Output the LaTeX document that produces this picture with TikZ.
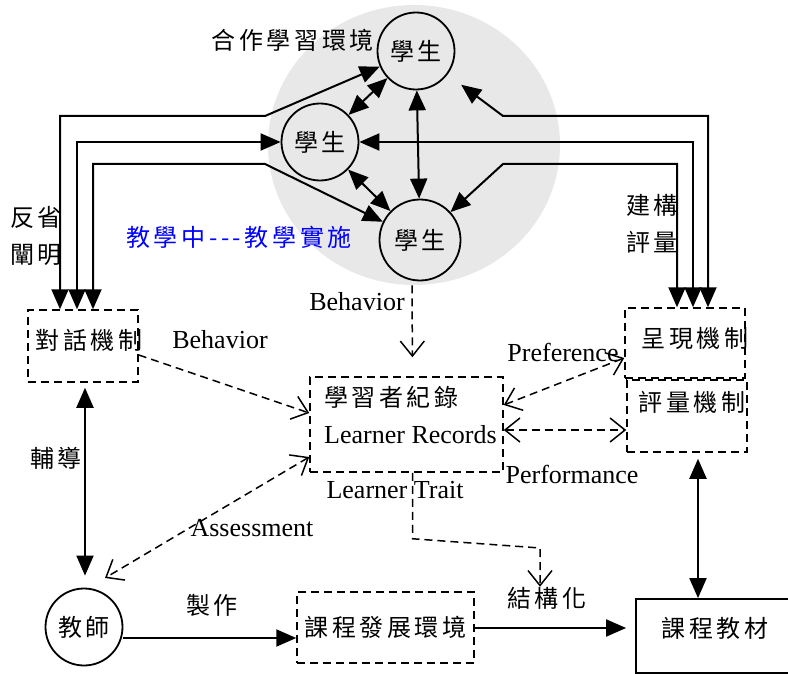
\documentclass[tikz,border=0pt]{standalone}
\usepackage{fontspec}
\setmainfont{Liberation Serif}
\newfontfamily\cjk[LetterSpace=15]{Noto Sans CJK TC}
\usetikzlibrary{arrows.meta}
\tikzset{
  zh/.style={font=\cjk\fontsize{24}{28}\selectfont, inner sep=0pt},
  en/.style={font=\fontsize{26}{30}\selectfont, inner sep=0pt},
  stu/.style={zh, draw, circle, line width=1.8pt, minimum size=77pt},
  dbox/.style={draw, line width=1.5pt, dash pattern=on 8pt off 5pt},
  sbox/.style={draw, line width=1.8pt},
  solid arrow/.style={line width=2pt, -{Triangle[length=20pt,width=17pt]}},
  both/.style={line width=2pt, {Triangle[length=20pt,width=17pt]}-{Triangle[length=20pt,width=17pt]}},
  open arrow/.style={line width=1.5pt, dash pattern=on 8pt off 5pt, -{Straight Barb[length=15pt,width=24pt]}},
  open both/.style={open arrow, {Straight Barb[length=15pt,width=24pt]}-{Straight Barb[length=15pt,width=24pt]}}
}
\begin{document}
\begin{tikzpicture}[x=1pt,y=-1pt]
  \useasboundingbox (0,0) rectangle (788,674);
  \fill[black!9] (414,145) ellipse [x radius=146pt,y radius=140pt];
  % students
  \node[stu] (s1) at (416,51) {學生};
  \node[stu] (s2) at (320,142) {學生};
  \node[stu,minimum size=81pt] (s3) at (420,240) {學生};
  \node[stu] (tch) at (84,627) {教師};
  % boxes
  \node[dbox,minimum width=110pt,minimum height=72pt] (dlg) at (83,346) {};
  \node[dbox,minimum width=120pt,minimum height=70pt] (pres) at (685,343) {};
  \node[dbox,minimum width=120pt,minimum height=72pt] (eval) at (687,416) {};
  \node[dbox,minimum width=193pt,minimum height=95pt] (rec) at (406.5,424.5) {};
  \node[dbox,zh,minimum width=177pt,minimum height=71pt] (dev) at (385.5,627.5) {課程發展環境};
  \node[sbox,minimum width=160pt,minimum height=74pt] (mat) at (716,636) {};
  % texts
  \node[zh] (dlgt) at (89,340) {對話機制};
  \node[zh] (prest) at (695,338) {呈現機制};
  \node[zh] (evalt) at (692,402) {評量機制};
  \node[zh,anchor=west] (rect) at (324,397) {學習者紀錄};
  \node[en,anchor=west] (recen) at (324,435) {Learner Records};
  \node[zh] (matt) at (715,628) {課程教材};
  \node[zh,anchor=east] (env) at (374,40) {合作學習環境};
  \node[zh,text=blue] (now) at (239,237) {教學中-{}-{}-教學實施};
  \node[zh] (refl) at (36,217) {反省};
  \node[zh] (clar) at (36,255) {闡明};
  \node[zh] (cons) at (652,205) {建構};
  \node[zh] (asmt) at (652,242) {評量};
  \node[en] (beh1) at (357,302) {Behavior};
  \node[en] (beh2) at (220,340) {Behavior};
  \node[en] (pref) at (563,352) {Preference};
  \node[en] (perf) at (572,474) {Performance};
  \node[en] (trait) at (395,490) {Learner Trait};
  \node[en] (assess) at (252,528) {Assessment};
  \node[zh] (tutor) at (56,458) {輔導};
  \node[zh] (make) at (212,605) {製作};
  \node[zh] (struct) at (547,598) {結構化};
  \coordinate (bend) at (540,548);
  % reflection and construction
  \begin{scope}[both]
    \draw ([xshift=-23pt]dlg.north) |- (265,116) -- (s1);
    \draw ([xshift=-6pt]dlg.north) |- (s2.west);
    \draw ([xshift=10pt]dlg.north) |- (265,164) -- (s3);
    \draw[shorten >=17pt] ([xshift=23pt]pres.north) |- (503,116) -- (s1);
    \draw ([xshift=8pt]pres.north) |- (s2.east);
    \draw ([xshift=-8pt]pres.north) |- (503,164) -- (s3);
    \draw (s1) -- (s2);
    \draw (s2) -- (s3);
    \draw (s1) -- (s3);
    \draw[shorten <=5pt,shorten >=12pt] ([xshift=2pt]dlg.south) -- ([xshift=1pt]tch.north);
    \draw[shorten <=6pt] ([xshift=11pt]eval.south) -- ([xshift=11pt]eval.south |- mat.north);
  \end{scope}
  \draw[solid arrow] ([yshift=-11pt]tch.east) -- ([yshift=-10.5pt]dev.west);
  \draw[solid arrow,shorten >=9pt] ([yshift=-0.5pt]dev.east) -- ([yshift=8pt]mat.west);
  % records
  \draw[open arrow,shorten <=4pt,shorten >=19pt] ([xshift=-8pt]s3.south) -- ([xshift=6pt]rec.north);
  \draw[open arrow] ([yshift=-9pt]dlg.east) -- ([yshift=11.5pt]rec.west);
  \draw[open both] ([yshift=-32.5pt]rec.west) -- ([shift={(21,-49)}]tch.center);
  \draw[open both] ([yshift=19.5pt]rec.east) -- ([yshift=-15pt]pres.west);
  \draw[open both] ([yshift=-5.5pt]rec.east) -- ([yshift=-14pt]eval.west);
  \draw[open arrow] ([xshift=6pt]rec.south) -- ++(0,66) -- (bend) -- (bend |- struct.north);
\end{tikzpicture}
\end{document}
